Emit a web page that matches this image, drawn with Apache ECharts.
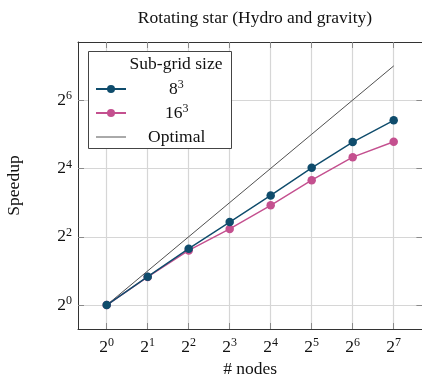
<!DOCTYPE html>
<html>
<head>
<meta charset="utf-8">
<script src="https://cdn.jsdelivr.net/npm/echarts@6/dist/echarts.min.js"></script>
<style>
  html, body { margin: 0; padding: 0; background: #fff; }
  #chart { width: 422px; height: 379px; }
</style>
</head>
<body>
<div id="chart"></div>
<script>
// Strong scaling of the rotating-star run: speedup vs. node count
const nodes = [1, 2, 4, 8, 16, 32, 64, 128];
const speedup8 = [1, 1.78, 3.14, 5.39, 9.25, 16.2, 27.3, 42.5];
const speedup16 = [1, 1.77, 3.03, 4.69, 7.57, 12.6, 20.1, 27.5];
const optimal = [1, 2, 4, 8, 16, 32, 64, 128];
const xTicks = [1, 2, 4, 8, 16, 32, 64, 128];
const yTicks = [1, 4, 16, 64];

const SERIF = '"Liberation Serif", "DejaVu Serif", serif';
const FS = 17.5;
const pairs = (xs, ys) => xs.map((x, i) => [x, ys[i]]);
const powLabel = v => '{b|2}{s|' + Math.round(Math.log2(v)) + '}';
const labelRich = {
  b: { fontFamily: SERIF, fontSize: FS, color: '#111', lineHeight: 20 },
  s: { fontFamily: SERIF, fontSize: 12, color: '#111', lineHeight: 20, verticalAlign: 'top', padding: [0, 0, 7, 0] }
};
const legendNames = { '8³': '{b|8}{s|3}', '16³': '{b|16}{s|3}', 'Optimal': '{b|Optimal}' };

// both axes span 2^-0.7 .. 2^7.7
const lo = Math.pow(2, -0.7), hi = Math.pow(2, 7.7);
const tickStyle = { show: true, inside: true, length: 6, lineStyle: { color: '#8a8a8a', width: 1 } };
const gridLine = { show: true, lineStyle: { color: '#d6d6d6', width: 1.2 } };
const frameLine = { show: true, onZero: false, lineStyle: { color: '#333', width: 1 } };

const blue = '#0f4c6c', pink = '#c4508f';

const chart = echarts.init(document.getElementById('chart'), null, { renderer: 'canvas' });
chart.setOption({
  animation: false,
  backgroundColor: '#fff',
  title: {
    text: 'Rotating star (Hydro and gravity)',
    left: 250, top: 4, textAlign: 'center',
    textStyle: { fontFamily: SERIF, fontSize: FS, fontWeight: 'normal', color: '#111' }
  },
  grid: { left: 78, top: 42, width: 344.4, height: 287, containLabel: false, outerBoundsMode: 'none' },
  xAxis: [{
    type: 'log', logBase: 2, min: lo, max: hi,
    name: '# nodes', nameLocation: 'middle', nameGap: 30,
    nameTextStyle: { fontFamily: SERIF, fontSize: FS, color: '#111' },
    axisLine: frameLine,
    axisTick: Object.assign({ customValues: xTicks }, tickStyle),
    axisLabel: { customValues: xTicks, formatter: powLabel, rich: labelRich, margin: 8 },
    splitLine: gridLine,
    minorTick: { show: false }
  }, {
    type: 'log', logBase: 2, min: lo, max: hi, position: 'top',
    axisLine: frameLine,
    axisTick: Object.assign({ customValues: xTicks }, tickStyle),
    axisLabel: { show: false },
    splitLine: { show: false }
  }],
  yAxis: [{
    type: 'log', logBase: 2, min: lo, max: hi,
    name: 'Speedup', nameLocation: 'middle', nameGap: 55, nameRotate: 90,
    nameTextStyle: { fontFamily: SERIF, fontSize: FS, color: '#111' },
    axisLine: frameLine,
    axisTick: Object.assign({ customValues: yTicks }, tickStyle),
    axisLabel: { customValues: yTicks, formatter: powLabel, rich: labelRich, margin: 6 },
    splitLine: gridLine
  }, {
    type: 'log', logBase: 2, min: lo, max: hi, position: 'right',
    axisLine: { show: false },
    axisTick: Object.assign({ customValues: yTicks }, tickStyle),
    axisLabel: { show: false },
    splitLine: { show: false }
  }],
  graphic: [{
    type: 'rect', z: 50,
    shape: { x: 88.5, y: 51.5, width: 143, height: 97 },
    style: { fill: '#fff', stroke: '#444', lineWidth: 1 }
  }, {
    type: 'text', z: 51, x: 176, y: 64,
    style: { text: 'Sub-grid size', fontFamily: SERIF, fontSize: FS, fill: '#111', align: 'center', verticalAlign: 'middle' }
  }],
  legend: {
    z: 60, orient: 'vertical', left: 90, top: 74,
    itemWidth: 30, itemHeight: 10, itemGap: 4,
    data: [
      { name: '8³', textStyle: { padding: [0, 0, 0, 38] } },
      { name: '16³', textStyle: { padding: [0, 0, 0, 34] } },
      { name: 'Optimal', textStyle: { padding: [0, 0, 0, 17] },
        itemStyle: { opacity: 0 }, lineStyle: { color: '#555', width: 1 } }
    ],
    formatter: n => legendNames[n],
    textStyle: { lineHeight: 20, rich: labelRich },
    selectedMode: false
  },
  series: [{
    name: 'Optimal', type: 'line', xAxisIndex: 0, yAxisIndex: 0,
    data: pairs(nodes, optimal), showSymbol: false, symbol: 'none',
    lineStyle: { color: '#222', width: 0.8 }, itemStyle: { color: '#555' }, z: 3
  }, {
    name: '16³', type: 'line', xAxisIndex: 0, yAxisIndex: 0,
    data: pairs(nodes, speedup16), symbol: 'circle', symbolSize: 8.5,
    lineStyle: { color: pink, width: 1.4 }, itemStyle: { color: pink }, z: 4
  }, {
    name: '8³', type: 'line', xAxisIndex: 0, yAxisIndex: 0,
    data: pairs(nodes, speedup8), symbol: 'circle', symbolSize: 8.5,
    lineStyle: { color: blue, width: 1.4 }, itemStyle: { color: blue }, z: 5
  }]
});
</script>
</body>
</html>
